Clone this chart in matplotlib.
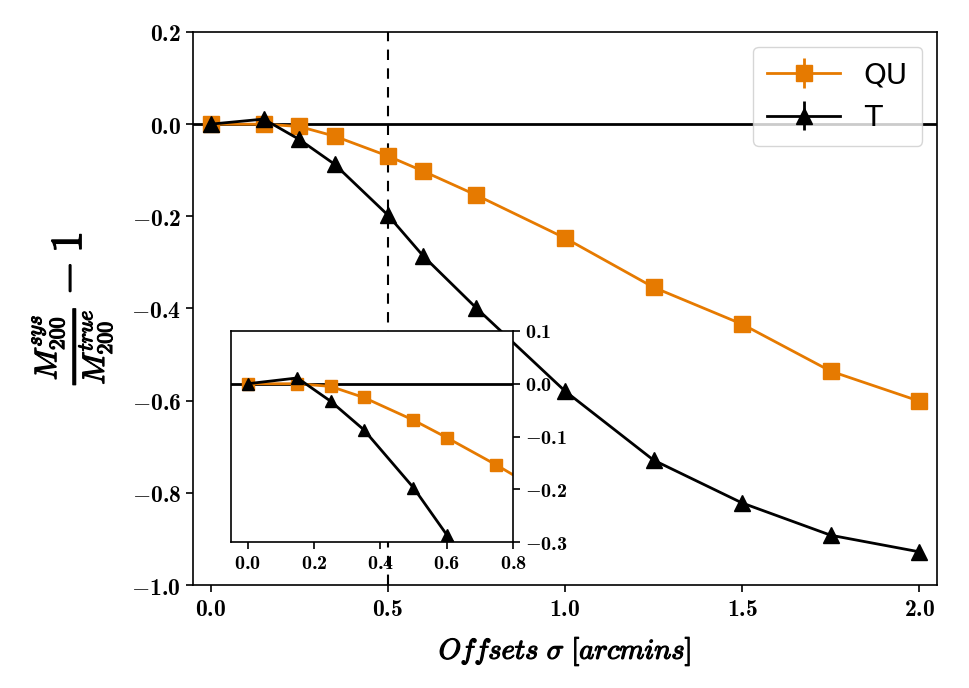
import matplotlib
matplotlib.use("Agg")
import matplotlib.pyplot as plt
import matplotlib.patheffects as pe
from matplotlib.ticker import FuncFormatter

# bold computer modern digits for the tick labels
plt.rcParams['mathtext.fontset'] = 'custom'
plt.rcParams['mathtext.rm'] = 'cmb10'
plt.rcParams['mathtext.bf'] = 'cmb10'
plt.rcParams['mathtext.it'] = 'cmmi10'
plt.rcParams['mathtext.fallback'] = 'cm'
plt.rcParams['axes.linewidth'] = 1.2

# offsets in arcmin
offsets = [0.0, 0.15, 0.25, 0.35, 0.5, 0.6, 0.75, 1.0, 1.25, 1.5, 1.75, 2.0]
qu_bias = [0.0, 0.0, -0.005, -0.026, -0.069, -0.102, -0.154, -0.247, -0.354, -0.434, -0.536, -0.601]
t_bias = [0.0, 0.011, -0.033, -0.087, -0.197, -0.286, -0.399, -0.579, -0.729, -0.822, -0.892, -0.928]
zero_err = [0.0] * len(offsets)

main_xticks = [0.0, 0.5, 1.0, 1.5, 2.0]
main_yticks = [-1.0, -0.8, -0.6, -0.4, -0.2, 0.0, 0.2]
inset_xticks = [0.0, 0.2, 0.4, 0.6, 0.8]
inset_yticks = [-0.3, -0.2, -0.1, 0.0, 0.1]

orange = '#e67a00'
tick_fmt = FuncFormatter(lambda v, p: r'$%.1f$' % v)
heavy = [pe.withStroke(linewidth=0.9, foreground='black')]

fig = plt.figure(figsize=(9.69, 6.88), dpi=100)
ax = fig.add_axes([0.199, 0.1497, 0.768, 0.8038])

ax.errorbar(offsets, qu_bias, yerr=zero_err, color=orange, marker='s', ms=11, lw=2, label='QU')
ax.errorbar(offsets, t_bias, yerr=zero_err, color='black', marker='^', ms=11, lw=2, label='T')
ax.axhline(0, color='black', lw=2)
ax.axvline(0.5, color='black', lw=1.5, ls='--', dashes=(5, 4))

ax.set_xlim(-0.05, 2.05)
ax.set_ylim(-1.0, 0.2)
ax.set_xticks(main_xticks)
ax.set_yticks(main_yticks)
ax.xaxis.set_major_formatter(tick_fmt)
ax.yaxis.set_major_formatter(tick_fmt)
ax.tick_params(labelsize=17, length=5, width=1.2)

ax.set_xlabel(r'$Offsets\ \sigma\ [arcmins]$', fontsize=20.5, labelpad=10,
              math_fontfamily='cm', path_effects=heavy)
ax.set_ylabel(r'$\frac{M_{200}^{sys}}{M_{200}^{true}} - 1$', fontsize=32, labelpad=12,
              math_fontfamily='cm', path_effects=heavy)

ax.legend(loc='upper right', fontsize=21, handlelength=2.5, borderpad=0.5)

# inset zoom
ins = fig.add_axes([0.2384, 0.2122, 0.291, 0.3067])
ins.errorbar(offsets, qu_bias, yerr=zero_err, color=orange, marker='s', ms=8, lw=2)
ins.errorbar(offsets, t_bias, yerr=zero_err, color='black', marker='^', ms=8, lw=2)
ins.axhline(0, color='black', lw=2)
ins.set_xlim(-0.05, 0.8)
ins.set_ylim(-0.3, 0.1)
ins.set_xticks(inset_xticks)
ins.set_yticks(inset_yticks)
ins.yaxis.tick_right()
ins.xaxis.set_major_formatter(tick_fmt)
ins.yaxis.set_major_formatter(tick_fmt)
ins.tick_params(labelsize=14.5, length=5, width=1.2)

fig.savefig('out.png', dpi=100)
